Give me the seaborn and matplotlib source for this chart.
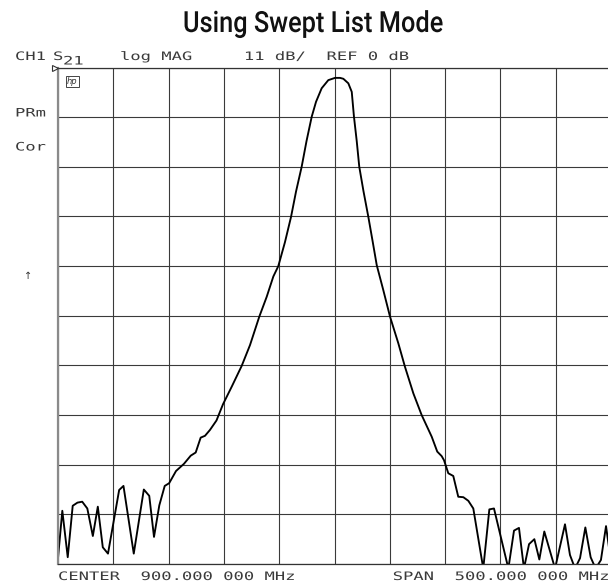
import matplotlib
matplotlib.use("Agg")
import numpy as np
import pandas as pd
import seaborn as sns
import matplotlib.pyplot as plt
import matplotlib.transforms as mtransforms
import matplotlib.patheffects as pe

# ---- measured transmission trace (S21 magnitude) ----
freq_mhz = [650.0, 653.9, 658.8, 663.3, 667.6, 671.9, 676.5, 681.5, 686.0, 690.5,
            695.2, 705.3, 709.2, 718.5, 727.6, 732.5, 736.8, 741.6, 746.5, 750.5,
            756.7, 763.9, 770.0, 774.5, 779.0, 782.9, 787.4, 793.3, 799.2, 807.1,
            816.1, 823.6, 832.0, 838.7, 844.7, 849.2, 855.2, 860.7, 865.2, 870.3,
            874.7, 879.4, 883.3, 888.4, 894.4, 900.5, 905.0, 908.0, 912.5, 915.6,
            917.6, 920.1, 922.4, 926.2, 930.6, 934.4, 938.2, 944.1, 950.2, 957.7,
            963.7, 971.3, 978.8, 987.9, 992.9, 996.9, 999.0, 1002.9, 1007.4, 1011.9,
            1016.5, 1021.0, 1025.5, 1034.5, 1040.0, 1044.2, 1057.2, 1062.3, 1066.8, 1071.3,
            1075.9, 1080.7, 1085.2, 1089.7, 1099.4, 1108.4, 1112.9, 1117.5, 1122.0, 1126.8,
            1131.6, 1136.1, 1140.9, 1145.5, 1150.0]
s21_db = [-108.7, -98.2, -108.5, -97.1, -96.4, -96.2, -97.7, -103.8, -97.3, -106.3,
          -107.7, -93.6, -92.7, -107.7, -93.5, -94.9, -104.0, -97.0, -92.7, -92.1,
          -89.4, -87.8, -86.0, -85.3, -82.0, -81.6, -80.3, -78.2, -74.6, -70.7,
          -66.1, -61.5, -55.2, -50.8, -46.3, -44.0, -38.7, -33.1, -27.5, -22.0,
          -16.3, -10.9, -7.6, -4.6, -2.8, -2.3, -2.3, -2.5, -3.5, -5.4,
          -10.9, -16.3, -22.0, -27.4, -33.1, -38.4, -43.8, -49.3, -55.2, -61.1,
          -66.3, -72.2, -77.0, -81.8, -85.1, -86.1, -87.0, -89.9, -90.5, -95.1,
          -95.2, -96.0, -97.7, -111.0, -97.9, -97.7, -111.0, -102.6, -102.0, -111.0,
          -105.6, -104.5, -109.0, -102.8, -111.0, -101.2, -108.0, -111.0, -108.7, -101.9,
          -108.5, -111.0, -109.1, -101.6, -109.6]

# ---- instrument settings shown on screen ----
center_mhz = 900.0
span_mhz = 500.0
ref_db = 0.0
db_per_div = 11.0
n_div = 10
title = "Using Swept List Mode"
channel = "CH1"
param, param_sub = "S", "21"
fmt_name = "log MAG"
annotations = ["PRm", "Cor"]

W, H = 608, 586
sns.set_theme(style="white")
plt.rcParams["font.family"] = ["DejaVu Sans Mono", "DejaVu Sans"]

fig = plt.figure(figsize=(W / 100, H / 100), dpi=100)
fig.patch.set_facecolor("white")

# screen graticule in pixel units (right edge runs just past the frame)
g_left, g_right, g_top, g_bottom = 58, 611, 67.5, 564
ax = fig.add_axes([g_left / W, (H - g_bottom) / H,
                   (g_right - g_left) / W, (g_bottom - g_top) / H])

df = pd.DataFrame({"freq": freq_mhz, "s21": s21_db})
sns.lineplot(data=df, x="freq", y="s21", ax=ax, sort=False, estimator=None,
             color="black", lw=1.35)

x_min, x_max = center_mhz - span_mhz / 2, center_mhz + span_mhz / 2
y_max = ref_db
y_min = ref_db - n_div * db_per_div
ax.set_xlim(x_min, x_max)
ax.set_ylim(y_min, y_max)
ax.set_xticks(np.linspace(x_min, x_max, n_div + 1))
ax.set_yticks(np.linspace(y_min, y_max, n_div + 1))
ax.grid(True, color="#3a3a3a", lw=0.8)
ax.tick_params(length=0, labelbottom=False, labelleft=False)
ax.set_xlabel("")
ax.set_ylabel("")
ax.set_facecolor("white")
for name, sp in ax.spines.items():
    sp.set_visible(True)
    sp.set_color("#333333")
    sp.set_linewidth(0.9)
ax.spines["left"].set_color("#8a8a8a")
ax.spines["left"].set_linewidth(1.6)

# reference-level pointer at the top-left of the graticule
tri_tf = mtransforms.offset_copy(ax.transData, fig=fig, x=-3.5, y=0, units="dots")
ax.plot([x_min], [ref_db], marker=">", ms=5, mfc="white", mec="#333333",
        mew=0.8, transform=tri_tf, clip_on=False, zorder=5)


class HorizontalStretch(pe.AbstractPathEffect):
    """Widen glyphs horizontally about the text origin (instrument-style lettering)."""

    def __init__(self, sx):
        super().__init__()
        self._sx = sx

    def draw_path(self, renderer, gc, tpath, affine, rgbFace=None):
        renderer.draw_path(gc, tpath,
                           mtransforms.Affine2D().scale(self._sx, 1.0) + affine,
                           rgbFace)


pix = mtransforms.Affine2D().scale(1, -1).translate(0, H)


def screen_text(x, y, s, size=8.4, sx=1.47, **kw):
    t = fig.text(x, y, s, transform=pix, ha="left", va="baseline",
                 family="DejaVu Sans Mono", fontsize=size, color="#3a3a3a", **kw)
    t.set_path_effects([HorizontalStretch(sx)])
    return t


def mhz_label(v):
    s = f"{v:.6f}"
    return s[:-3] + " " + s[-3:]


screen_text(15, 60, channel)
screen_text(53, 60, param)
screen_text(63, 64.5, param_sub)
screen_text(120, 60, f"{fmt_name}     {db_per_div:g} dB/  REF {ref_db:g} dB")
screen_text(15, 116.5, annotations[0])
screen_text(15, 150.5, annotations[1])
screen_text(58, 580, f"CENTER  {mhz_label(center_mhz)} MHz")
screen_text(392.7, 580, f"SPAN  {mhz_label(span_mhz)} MHz")
fig.text(28, 276, "\u2191", transform=pix, ha="center", va="center",
         family="DejaVu Sans", fontsize=7, color="#333333")

# small maker logo in the upper-left graticule cell
fig.text(72.5, 81.5, "hp", transform=pix, ha="center", va="center",
         family="DejaVu Sans", fontsize=6, style="italic", color="#333333",
         bbox=dict(boxstyle="square,pad=0.15", fc="white", ec="#444444", lw=0.7))

# title in a condensed face
t_left, t_right, t_base = 183, 443, 32
ttl = fig.text(t_left, t_base, title, transform=pix, ha="left", va="baseline",
               family="Roboto", fontsize=21, weight="medium", color="#111111")
fig.canvas.draw()
w = ttl.get_window_extent(fig.canvas.get_renderer()).width
ttl.set_path_effects([HorizontalStretch((t_right - t_left) / w)])

fig.savefig("out.png", dpi=100, facecolor="white")
